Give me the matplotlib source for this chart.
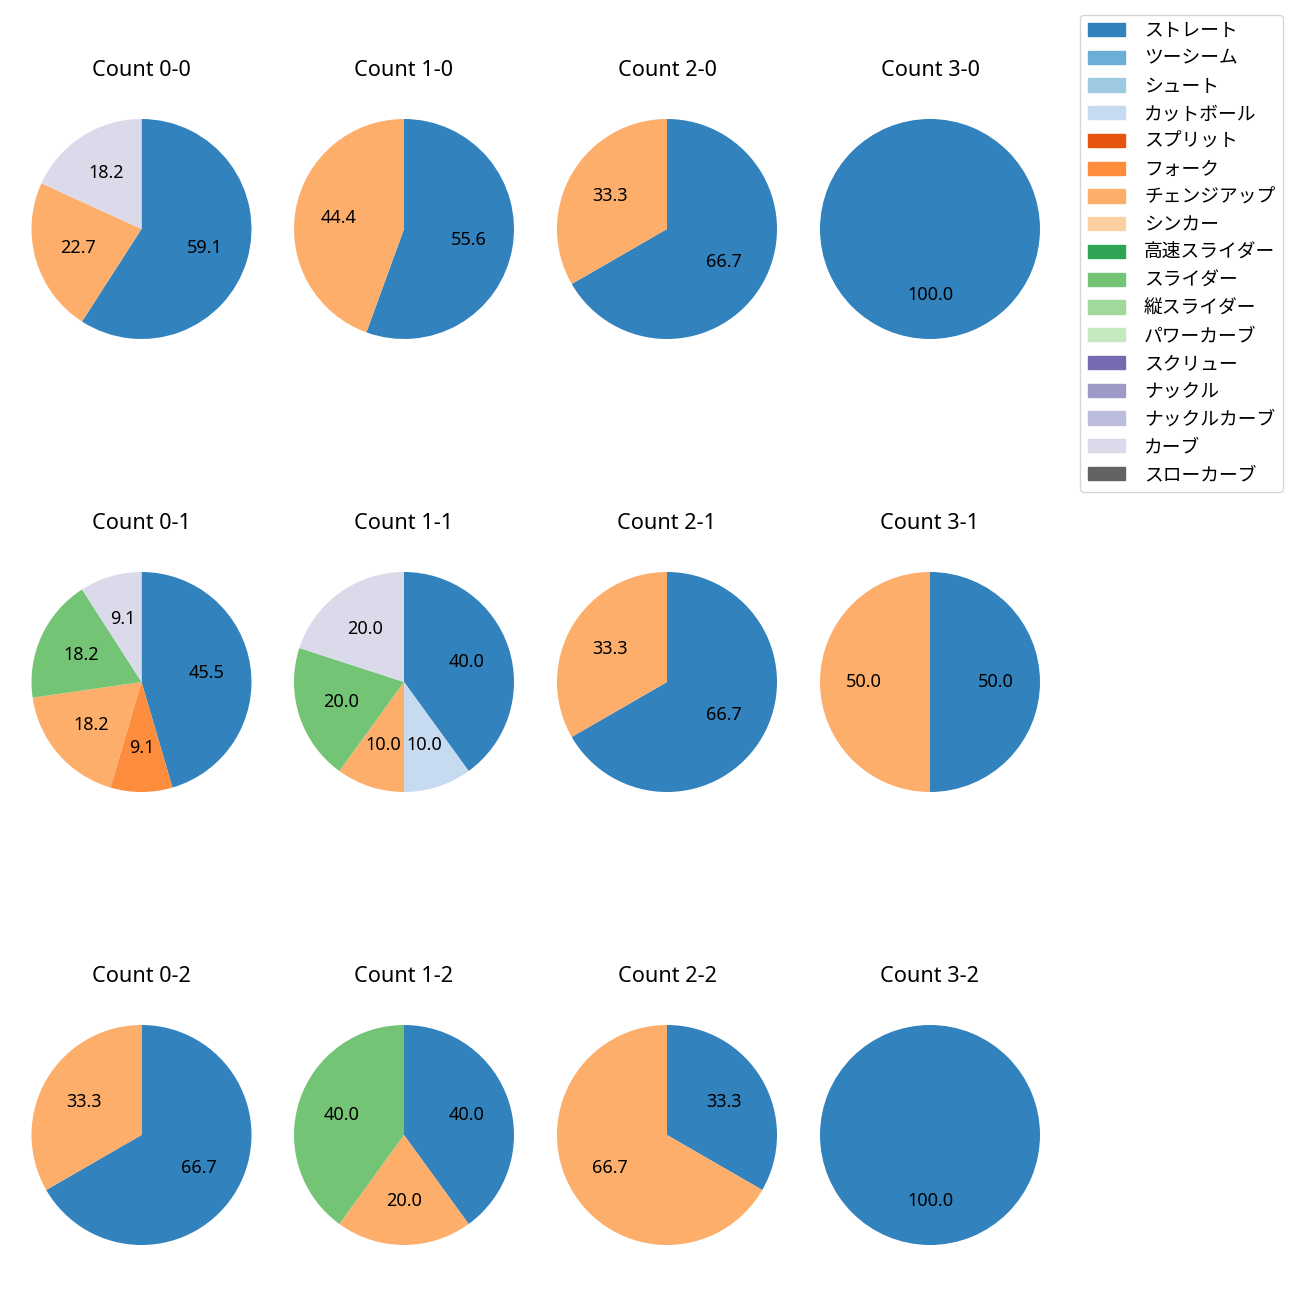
import numpy as np
import matplotlib.pyplot as plt
from matplotlib.patches import Patch

plt.rcParams['font.family'] = ['Noto Sans', 'Noto Sans CJK JP', 'DejaVu Sans']

pitch_types = ["ストレート", "ツーシーム", "シュート", "カットボール", "スプリット",
               "フォーク", "チェンジアップ", "シンカー", "高速スライダー", "スライダー",
               "縦スライダー", "パワーカーブ", "スクリュー", "ナックル", "ナックルカーブ",
               "カーブ", "スローカーブ"]

# pitch counts per ball-strike count, in pitch_types order
count_0_0 = [13, 0, 0, 0, 0, 0, 5, 0, 0, 0, 0, 0, 0, 0, 0, 4, 0]
count_1_0 = [5, 0, 0, 0, 0, 0, 4, 0, 0, 0, 0, 0, 0, 0, 0, 0, 0]
count_2_0 = [2, 0, 0, 0, 0, 0, 1, 0, 0, 0, 0, 0, 0, 0, 0, 0, 0]
count_3_0 = [1, 0, 0, 0, 0, 0, 0, 0, 0, 0, 0, 0, 0, 0, 0, 0, 0]
count_0_1 = [5, 0, 0, 0, 0, 1, 2, 0, 0, 2, 0, 0, 0, 0, 0, 1, 0]
count_1_1 = [4, 0, 0, 1, 0, 0, 1, 0, 0, 2, 0, 0, 0, 0, 0, 2, 0]
count_2_1 = [2, 0, 0, 0, 0, 0, 1, 0, 0, 0, 0, 0, 0, 0, 0, 0, 0]
count_3_1 = [1, 0, 0, 0, 0, 0, 1, 0, 0, 0, 0, 0, 0, 0, 0, 0, 0]
count_0_2 = [2, 0, 0, 0, 0, 0, 1, 0, 0, 0, 0, 0, 0, 0, 0, 0, 0]
count_1_2 = [2, 0, 0, 0, 0, 0, 1, 0, 0, 2, 0, 0, 0, 0, 0, 0, 0]
count_2_2 = [1, 0, 0, 0, 0, 0, 2, 0, 0, 0, 0, 0, 0, 0, 0, 0, 0]
count_3_2 = [1, 0, 0, 0, 0, 0, 0, 0, 0, 0, 0, 0, 0, 0, 0, 0, 0]

grid = [
    [("Count 0-0", count_0_0), ("Count 1-0", count_1_0), ("Count 2-0", count_2_0), ("Count 3-0", count_3_0)],
    [("Count 0-1", count_0_1), ("Count 1-1", count_1_1), ("Count 2-1", count_2_1), ("Count 3-1", count_3_1)],
    [("Count 0-2", count_0_2), ("Count 1-2", count_1_2), ("Count 2-2", count_2_2), ("Count 3-2", count_3_2)],
]

colors = plt.get_cmap('tab20c').colors[:len(pitch_types)]

W, H = 1300, 1300
fig = plt.figure(figsize=(13, 13), dpi=100)

col_x = [141.5, 404, 667, 930]   # pie centres, px
row_y = [229, 682, 1135]
aw, ah = 263, 290                 # axes box, px
diam = 220                        # pie diameter, px

for r, row in enumerate(grid):
    for c, (title, vals) in enumerate(row):
        cx, cy = col_x[c], row_y[r]
        ax = fig.add_axes([(cx - aw/2)/W, 1 - (cy + ah/2)/H, aw/W, ah/H])
        idx = [i for i, v in enumerate(vals) if v > 0]
        ax.pie([vals[i] for i in idx], colors=[colors[i] for i in idx],
               startangle=90, counterclock=False, autopct='%.1f',
               textprops={'fontsize': 13})
        ax.set_aspect('auto')
        ax.set_xlim(-aw/diam, aw/diam)
        ax.set_ylim(-ah/diam, ah/diam)
        ax.set_title(title, fontsize=15.6)

handles = [Patch(color=colors[i], label=p) for i, p in enumerate(pitch_types)]
fig.legend(handles=handles, loc='upper right', bbox_to_anchor=(0.994, 0.996),
           fontsize=13.5, handletextpad=1.0, labelspacing=0.52)

fig.savefig("out.png", dpi=100)
